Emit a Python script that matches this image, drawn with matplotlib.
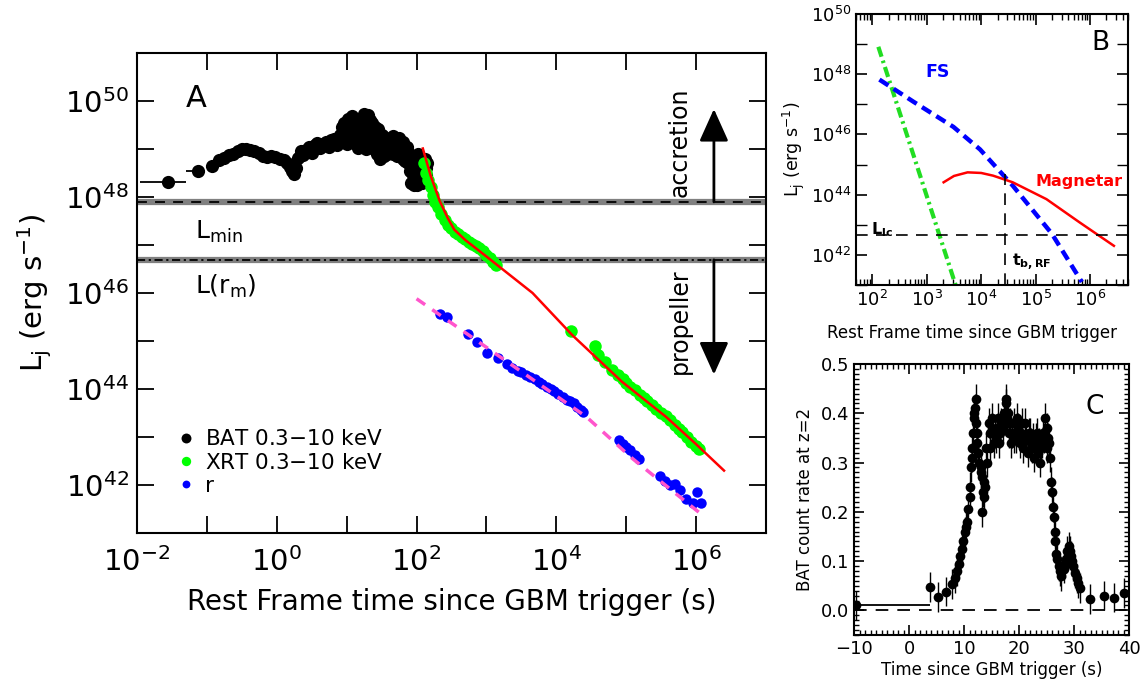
import numpy as np
import matplotlib.pyplot as plt
from matplotlib.ticker import LogLocator, FixedLocator, FuncFormatter, MultipleLocator, NullFormatter

plt.rcParams['font.family'] = ['DejaVu Sans']
plt.rcParams['mathtext.fontset'] = 'dejavusans'

# %% data (log10 values)
# Panel A: BAT light curve (rest frame), log t [s], log L [erg/s]
bat_logt = [-1.56, -1.13, -0.93, -0.82, -0.75, -0.68, -0.62, -0.56, -0.50, -0.44,
            -0.38, -0.32, -0.26, -0.20, -0.14, -0.08, -0.02, 0.04, 0.10, 0.15,
            0.19, 0.22, 0.25, 0.28, 0.31, 0.35, 0.38, 0.42, 0.46, 0.50,
            0.54, 0.58, 0.62, 0.66, 0.70, 0.74, 0.78, 0.82, 0.86, 0.90,
            0.93, 0.96, 0.99, 1.00, 1.02, 1.05, 1.07, 1.08, 1.10, 1.13,
            1.16, 1.18, 1.19, 1.22, 1.25, 1.27, 1.28, 1.30, 1.33, 1.35,
            1.36, 1.39, 1.42, 1.44, 1.45, 1.48, 1.51, 1.53, 1.54, 1.57,
            1.60, 1.62, 1.63, 1.66, 1.69, 1.71, 1.72, 1.75, 1.78, 1.80,
            1.81, 1.84, 1.87, 1.89, 1.90, 1.92, 1.94, 1.96, 1.98, 2.00,
            2.01, 2.02, 2.04, 2.06, 2.08, 2.09, 2.10, 2.12, 2.14,
            0.91, 0.94, 0.97, 1.01, 1.04, 1.06, 1.09, 1.11, 1.12, 1.14,
            1.15, 1.17, 1.20, 1.21, 1.23, 1.24, 1.26, 1.29, 1.31, 1.32,
            1.34, 1.37, 1.38, 1.40, 1.41, 1.43, 1.46, 1.47, 1.49, 1.50,
            1.52, 1.55, 1.56, 1.58, 1.59, 1.61, 1.64, 1.65, 1.67, 1.68,
            1.70, 1.73, 1.74, 1.76, 1.77, 1.79, 1.82, 1.83, 1.85, 1.86,
            1.88, 1.91, 1.93, 1.95, 1.97, 1.99, 2.03, 2.05, 2.07, 2.11,
            2.13, 2.15]
bat_logL = [48.31, 48.54, 48.64, 48.76, 48.82, 48.88, 48.90, 48.96, 49.00, 48.99,
            48.98, 48.96, 48.92, 48.85, 48.83, 48.86, 48.84, 48.80, 48.76, 48.70,
            48.62, 48.55, 48.47, 48.60, 48.82, 48.95, 48.88, 48.98, 49.05, 48.92,
            49.08, 49.12, 49.02, 49.10, 49.15, 49.05, 49.18, 49.20, 49.08, 49.30,
            49.45, 49.55, 49.35, 49.10, 49.62, 49.50, 49.20, 49.68, 49.25, 49.55,
            49.02, 49.10, 49.40, 49.62, 49.72, 49.00, 49.45, 49.70, 49.35, 49.10,
            49.55, 49.00, 49.30, 48.90, 49.42, 48.80, 49.10, 48.85, 49.25, 48.90,
            49.20, 49.10, 48.95, 49.28, 49.05, 49.20, 48.85, 49.22, 49.00, 48.80,
            49.15, 48.75, 49.05, 48.90, 48.55, 48.30, 48.85, 48.25, 48.60, 48.40,
            48.25, 48.90, 48.35, 48.70, 48.30, 48.70, 48.55, 48.80, 48.45,
            49.15, 49.25, 49.30, 49.40, 49.30, 49.45, 49.40, 49.50, 49.20, 49.35,
            49.45, 49.30, 49.25, 49.50, 49.30, 49.45, 49.60, 49.30, 49.50, 49.20,
            49.60, 49.35, 49.20, 49.15, 49.45, 49.20, 49.05, 49.25, 49.00, 49.30,
            48.95, 49.05, 49.15, 49.05, 48.95, 49.00, 49.15, 49.05, 48.90, 49.15,
            48.95, 49.05, 48.95, 49.10, 48.90, 49.10, 48.95, 49.05, 48.90, 49.00,
            48.70, 48.75, 48.60, 48.45, 48.50, 48.30, 48.60, 48.50, 48.45, 48.35,
            48.60, 48.70]
bat_xerr_lo = [-1.96, -1.30]   # horizontal bars of the first two bins
bat_xerr_hi = [-1.30, -1.05]

# Panel A: XRT
xrt_logt = [2.10, 2.13, 2.17, 2.20, 2.23, 2.27, 2.30, 2.35, 2.40, 2.45,
            2.50, 2.55, 2.60, 2.65, 2.70, 2.75, 2.80, 2.85, 2.90, 2.95,
            3.00, 3.05, 3.10, 3.14, 4.21, 4.55, 4.60, 4.70, 4.80, 4.88,
            4.95, 5.00, 5.05, 5.12, 5.20, 5.25, 5.30, 5.37, 5.42, 5.50,
            5.57, 5.62, 5.70, 5.75, 5.80, 5.87, 5.93, 6.00, 6.04]
xrt_logL = [48.70, 48.50, 48.35, 48.20, 48.05, 47.90, 47.80, 47.65, 47.52, 47.42,
            47.35, 47.28, 47.22, 47.17, 47.12, 47.07, 47.02, 46.98, 46.93, 46.87,
            46.80, 46.72, 46.65, 46.58, 45.20, 44.90, 44.70, 44.56, 44.40, 44.30,
            44.20, 44.12, 44.05, 43.97, 43.87, 43.82, 43.74, 43.66, 43.58, 43.50,
            43.43, 43.35, 43.25, 43.17, 43.10, 43.00, 42.90, 42.82, 42.75]

# Panel A: optical r band
r_logt = [2.33, 2.43, 2.73, 2.87, 3.01, 3.16, 3.29, 3.37, 3.45, 3.50,
          3.57, 3.63, 3.70, 3.75, 3.80, 3.86, 3.92, 3.97, 4.03, 4.10,
          4.15, 4.20, 4.25, 4.30, 4.35, 4.38, 4.90, 4.95, 5.00, 5.06,
          5.12, 5.18, 5.49, 5.55, 5.63, 5.70, 5.77, 5.86, 5.96, 6.01, 6.07]
r_logL = [45.57, 45.50, 45.15, 44.97, 44.74, 44.64, 44.52, 44.43, 44.38, 44.35,
          44.30, 44.25, 44.20, 44.14, 44.10, 44.05, 44.00, 43.95, 43.90, 43.83,
          43.78, 43.75, 43.70, 43.63, 43.57, 43.53, 42.93, 42.86, 42.80, 42.72,
          42.62, 42.54, 42.18, 42.08, 42.00, 42.02, 41.90, 41.70, 41.63, 41.86, 41.63]

# Panel A: model curves
model_logt = [2.09, 2.20, 2.33, 2.45, 2.54, 2.70, 3.00, 3.66, 4.23, 4.94, 5.57, 6.00, 6.40]
model_logL = [49.01, 48.45, 47.92, 47.55, 47.32, 47.10, 46.76, 46.00, 45.12, 44.15, 43.42, 42.85, 42.30]
rfit_logt = [2.00, 4.43, 5.09, 6.05]
rfit_logL = [45.88, 43.42, 42.55, 41.42]

L_min = 7.9e47
L_rm = 4.9e46

# Panel B: model components
ic_logt = [2.11, 3.53]
ic_logL = [48.91, 41.00]
fs_logt = [2.13, 2.76, 3.49, 3.98, 4.58, 5.30, 5.85]
fs_logL = [47.82, 47.08, 46.25, 45.50, 44.30, 42.70, 41.10]
mag_logt = [3.31, 3.50, 3.75, 4.00, 4.22, 4.58, 5.20, 5.80, 6.44]
mag_logL = [44.41, 44.62, 44.74, 44.72, 44.63, 44.41, 43.85, 43.09, 42.30]
L_lc = 4.6e42
t_b_rf = 2.8e4
t_b_top = 4.8e44

# Panel C: BAT count rate at z=2
c_t = [-9.6, 3.8, 5.2, 6.7, 7.8, 8.3, 8.7, 9.0, 9.3, 9.6,
       9.9, 10.2, 10.6, 10.8, 11.0, 11.2, 11.4, 11.5, 11.7, 11.9,
       12.1, 12.2, 12.4, 12.7, 13.0, 13.3, 13.3, 13.6, 13.9, 14.2,
       14.5, 14.8, 15.1, 15.4, 15.8, 16.1, 16.4, 16.8, 17.2, 17.6,
       17.9, 18.2, 18.5, 18.8, 19.1, 19.4, 19.8, 20.1, 20.4, 20.8,
       21.1, 21.3, 21.6, 22.0, 22.3, 22.7, 23.1, 23.4, 23.8, 24.1,
       24.4, 24.7, 25.0, 25.3, 25.6, 25.9, 26.2, 26.5, 26.8, 27.2,
       27.7, 28.1, 28.5, 29.0, 29.4, 29.9, 30.5, 31.1, 32.9, 35.4,
       37.2, 39.1,
       14.0, 14.7, 15.0, 15.6, 16.2, 16.6, 17.0, 17.4, 17.7, 18.0,
       18.4, 19.0, 19.6, 20.0, 20.6, 21.0, 21.8, 22.2, 22.5, 22.9,
       23.3, 23.6, 24.0, 24.6, 25.1, 25.5, 12.0, 11.8, 12.3, 12.6,
       13.1, 13.4, 13.7, 10.4, 11.1, 26.0, 26.3, 26.6, 26.9, 27.4,
       28.3, 28.8, 29.2, 29.7, 30.2, 30.8]
c_rate = [0.010, 0.047, 0.027, 0.038, 0.054, 0.065, 0.080, 0.095, 0.110, 0.125,
          0.140, 0.160, 0.180, 0.205, 0.230, 0.290, 0.310, 0.330, 0.360, 0.400,
          0.430, 0.380, 0.340, 0.300, 0.280, 0.270, 0.200, 0.230, 0.250, 0.300,
          0.380, 0.330, 0.370, 0.340, 0.350, 0.370, 0.340, 0.380, 0.400, 0.420,
          0.390, 0.360, 0.340, 0.360, 0.380, 0.350, 0.370, 0.340, 0.360, 0.330,
          0.380, 0.350, 0.320, 0.360, 0.330, 0.310, 0.350, 0.320, 0.300, 0.340,
          0.360, 0.390, 0.330, 0.350, 0.310, 0.260, 0.210, 0.160, 0.115, 0.090,
          0.070, 0.085, 0.105, 0.130, 0.110, 0.090, 0.065, 0.045, 0.023, 0.030,
          0.026, 0.035,
          0.330, 0.360, 0.390, 0.360, 0.390, 0.360, 0.370, 0.400, 0.430, 0.400,
          0.380, 0.350, 0.390, 0.360, 0.380, 0.350, 0.360, 0.340, 0.350, 0.330,
          0.360, 0.340, 0.330, 0.350, 0.370, 0.340, 0.410, 0.390, 0.360, 0.320,
          0.290, 0.240, 0.260, 0.170, 0.250, 0.240, 0.190, 0.140, 0.105, 0.080,
          0.095, 0.120, 0.120, 0.100, 0.075, 0.055]
c_err = 0.03
c_first_bin_end = 3.8

# tick positions (decades)
A_xmajor = [1e-2, 1e0, 1e2, 1e4, 1e6]
A_xminor = [1e-1, 1e1, 1e3, 1e5]
A_ymajor = [1e42, 1e44, 1e46, 1e48, 1e50]
A_yminor = [1e41, 1e43, 1e45, 1e47, 1e49, 1e51]
B_xmajor = [1e2, 1e3, 1e4, 1e5, 1e6]
B_ymajor = [1e42, 1e44, 1e46, 1e48, 1e50]
B_yminor = [1e41, 1e43, 1e45, 1e47, 1e49]

# %% figure
fig = plt.figure(figsize=(11.41, 6.88), dpi=100)
axA = fig.add_axes([0.1201, 0.2253, 0.5512, 0.6977])
axB = fig.add_axes([0.7502, 0.5858, 0.2384, 0.3939])
axC = fig.add_axes([0.7485, 0.0770, 0.2410, 0.3939])

p10 = lambda a: np.power(10.0, np.asarray(a, dtype=float))
pow_fmt = FuncFormatter(lambda v, _: r'$10^{%d}$' % round(np.log10(v)))

# ---------------- Panel A ----------------
axA.set_xscale('log')
axA.set_yscale('log')
axA.set_xlim(1e-2, 1e7)
axA.set_ylim(1e41, 1e51)

for lev, dash in [(L_min, (5.5, 4.5)), (L_rm, (4.5, 2.0, 1.2, 2.0))]:
    axA.axhline(lev, color='#808080', lw=4.5, zorder=1)
    axA.axhline(lev, color='k', lw=1.3, dashes=dash, zorder=2)

axA.errorbar(p10(bat_logt[:2]), p10(bat_logL[:2]),
             xerr=[p10(bat_logt[:2]) - p10(bat_xerr_lo), p10(bat_xerr_hi) - p10(bat_logt[:2])],
             fmt='none', ecolor='k', elinewidth=1.3, capsize=0, zorder=3)
axA.plot(p10(bat_logt), p10(bat_logL), 'o', color='k', ms=9.5, mew=0, zorder=4,
         label='BAT 0.3$-$10 keV')
axA.plot(p10(xrt_logt), p10(xrt_logL), 'o', color='#00ff00', ms=9, mew=0, zorder=4,
         label='XRT 0.3$-$10 keV')
axA.plot(p10(r_logt), p10(r_logL), 'o', color='#0000ff', ms=7.5, mew=0, zorder=4, label='r')
axA.plot(p10(model_logt), p10(model_logL), '-', color='#ff0000', lw=1.8, zorder=5)
axA.plot(p10(rfit_logt), p10(rfit_logL), color='#ff55cc', lw=2.5, dashes=(3, 2.5), zorder=5)

x_arrow = 1.8e6
arrow_style = dict(arrowstyle='-|>,head_width=0.45,head_length=1.0', lw=2,
                   color='k', mutation_scale=20, shrinkA=0, shrinkB=0)
axA.annotate('', xy=(x_arrow, 6.8e49), xytext=(x_arrow, L_min), arrowprops=arrow_style)
axA.annotate('', xy=(x_arrow, 2.0e44), xytext=(x_arrow, L_rm), arrowprops=arrow_style)
axA.text(5.9e5, 1.4e49, 'accretion', rotation=90, ha='center', va='center', fontsize=17)
axA.text(5.9e5, 2.6e45, 'propeller', rotation=90, ha='center', va='center', fontsize=17)
axA.text(0.05, 1.1e50, 'A', fontsize=22, ha='left', va='center')
axA.text(0.068, 1.85e47, r'L$_{\mathrm{min}}$', fontsize=18, ha='left', va='center')
axA.text(0.068, 1.4e46, r'L(r$_{\mathrm{m}}$)', fontsize=18, ha='left', va='center')

axA.xaxis.set_major_locator(FixedLocator(A_xmajor))
axA.xaxis.set_minor_locator(FixedLocator(A_xminor))
axA.yaxis.set_major_locator(FixedLocator(A_ymajor))
axA.yaxis.set_minor_locator(FixedLocator(A_yminor))
axA.xaxis.set_major_formatter(pow_fmt)
axA.yaxis.set_major_formatter(pow_fmt)
axA.xaxis.set_minor_formatter(NullFormatter())
axA.yaxis.set_minor_formatter(NullFormatter())
axA.tick_params(which='both', direction='in', length=12, width=1.3, top=True, right=True,
                labelsize=21)
axA.tick_params(axis='x', pad=10)
axA.tick_params(axis='y', pad=6)
for s in axA.spines.values():
    s.set_linewidth(1.5)
axA.set_xlabel('Rest Frame time since GBM trigger (s)', fontsize=20, labelpad=8)
axA.set_ylabel(r'L$_{\mathrm{j}}$ (erg s$^{-1}$)', fontsize=21, labelpad=8)
axA.legend(loc='lower left', bbox_to_anchor=(0.05, 0.055), frameon=False, fontsize=15.5,
           markerscale=0.75, handlelength=0.6, handletextpad=0.6, labelspacing=0.15,
           borderpad=0)

# ---------------- Panel B ----------------
axB.set_xscale('log')
axB.set_yscale('log')
axB.set_xlim(50, 5e6)
axB.set_ylim(1e41, 1e50)
axB.plot(p10(ic_logt), p10(ic_logL), color='#22dd22', lw=3, dashes=(2.5, 1.0, 0.6, 1.0))
axB.plot(p10(fs_logt), p10(fs_logL), color='#0000ff', lw=3.2, dashes=(2.4, 1.4))
axB.plot(p10(mag_logt), p10(mag_logL), color='#ff0000', lw=1.8)
axB.axhline(L_lc, color='k', lw=1.2, dashes=(7, 5))
axB.plot([t_b_rf, t_b_rf], [1e41, t_b_top], color='k', lw=1.2, dashes=(7, 5))
axB.text(0.897, 0.893, 'B', transform=axB.transAxes, fontsize=19, ha='center', va='center')
axB.text(0.30, 0.786, 'FS', transform=axB.transAxes, fontsize=12.5, color='#0000ff',
         ha='center', va='center', fontweight='bold')
axB.text(0.82, 0.38, 'Magnetar', transform=axB.transAxes, fontsize=11.5, color='#ff0000',
         ha='center', va='center', fontweight='bold')
axB.text(0.055, 0.205, r'L$_{\mathbf{lc}}$', transform=axB.transAxes, fontsize=11.5,
         ha='left', va='center', fontweight='bold')
axB.text(0.575, 0.085, r't$_{\mathbf{b,RF}}$', transform=axB.transAxes, fontsize=11.5,
         ha='left', va='center', fontweight='bold')
axB.xaxis.set_major_locator(FixedLocator(B_xmajor))
axB.xaxis.set_minor_locator(LogLocator(base=10.0, subs=np.arange(2, 10), numticks=20))
axB.yaxis.set_major_locator(FixedLocator(B_ymajor))
axB.yaxis.set_minor_locator(FixedLocator(B_yminor))
axB.xaxis.set_major_formatter(pow_fmt)
axB.yaxis.set_major_formatter(pow_fmt)
axB.xaxis.set_minor_formatter(NullFormatter())
axB.yaxis.set_minor_formatter(NullFormatter())
axB.tick_params(which='major', direction='in', length=8, width=1.2, top=True, right=True,
                labelsize=13)
axB.tick_params(which='minor', direction='in', length=4, width=1.0, top=True, right=True)
axB.tick_params(axis='y', which='minor', length=8)
for s in axB.spines.values():
    s.set_linewidth(1.5)
axB.set_xlabel('Rest Frame time since GBM trigger', fontsize=12)
axB.xaxis.set_label_coords(0.426, -0.145)
axB.set_ylabel(r'L$_{\mathrm{j}}$ (erg s$^{-1}$)', fontsize=12.5, labelpad=3)

# ---------------- Panel C ----------------
axC.set_xlim(-10, 40)
axC.set_ylim(-0.05, 0.5)
axC.axhline(0, color='k', lw=1.3, dashes=(7, 5))
axC.errorbar(c_t[:1], c_rate[:1], xerr=[[0], [c_first_bin_end - c_t[0]]], fmt='none',
             ecolor='k', elinewidth=1.3, capsize=0)
axC.errorbar(c_t, c_rate, yerr=c_err, fmt='o', color='k', ms=7, mew=0,
             ecolor='k', elinewidth=1.0, capsize=0)
axC.text(0.876, 0.84, 'C', transform=axC.transAxes, fontsize=19, ha='center', va='center')
axC.xaxis.set_major_locator(MultipleLocator(10))
axC.xaxis.set_minor_locator(MultipleLocator(1))
axC.yaxis.set_major_locator(MultipleLocator(0.1))
axC.yaxis.set_minor_locator(MultipleLocator(0.01))
axC.yaxis.set_major_formatter(FuncFormatter(lambda v, _: '%.1f' % v))
axC.xaxis.set_major_formatter(FuncFormatter(lambda v, _: ('%d' % round(v)).replace('-', '\u2212')))
axC.tick_params(which='major', direction='in', length=7, width=1.2, top=True, right=True,
                labelsize=13)
axC.tick_params(which='minor', direction='in', length=3.5, width=1.0, top=True, right=True)
for s in axC.spines.values():
    s.set_linewidth(1.5)
axC.set_xlabel('Time since GBM trigger (s)', fontsize=12, labelpad=2)
axC.set_ylabel('BAT count rate at z=2', fontsize=12, labelpad=5)

fig.savefig('out.png', dpi=100)
